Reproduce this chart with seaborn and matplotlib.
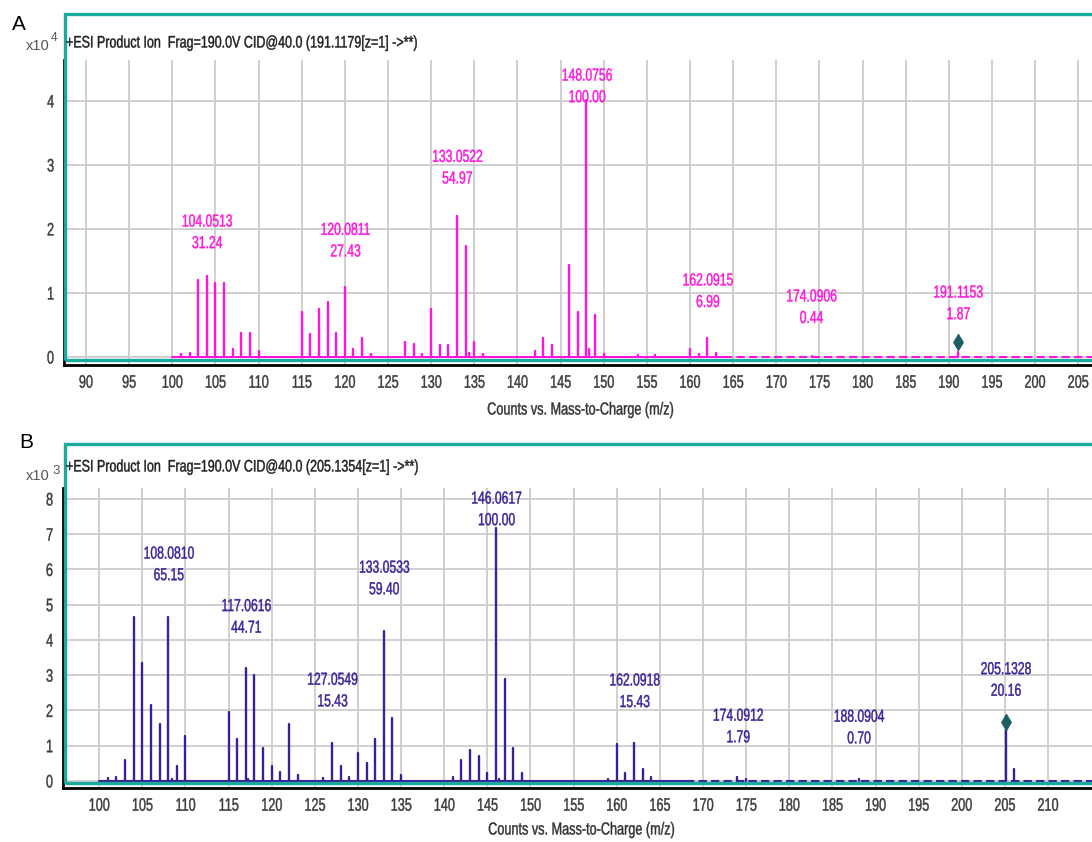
import numpy as np
import pandas as pd
import matplotlib
matplotlib.use("Agg")
import matplotlib.pyplot as plt
import seaborn as sns
from matplotlib.patches import Rectangle
from matplotlib.patheffects import AbstractPathEffect
from matplotlib.transforms import Affine2D

# ---------------- data ----------------
# Panel A: precursor 191.1179, counts x10^4
a_mz = [101, 102, 103, 104, 105, 106, 107, 108, 109, 110,
        115, 116, 117, 118, 119, 120, 121, 122, 123,
        127, 128, 129, 130, 131, 132, 133, 134, 134.4, 135, 136,
        142, 143, 144, 146, 147, 148, 148.3, 149, 150,
        154, 156, 160, 161, 162, 163, 174.1, 191.1]
a_int = [0.04, 0.07, 1.21, 1.27, 1.16, 1.16, 0.13, 0.38, 0.38, 0.09,
         0.71, 0.36, 0.75, 0.86, 0.37, 1.09, 0.13, 0.30, 0.04,
         0.24, 0.21, 0.04, 0.75, 0.18, 0.18, 2.21, 1.74, 0.06, 0.24, 0.04,
         0.09, 0.30, 0.18, 1.44, 0.71, 4.02, 0.12, 0.66, 0.04,
         0.03, 0.03, 0.13, 0.04, 0.30, 0.07, 0.02, 0.08]
a_lab_mz = ["104.0513", "120.0811", "133.0522", "148.0756", "162.0915", "174.0906", "191.1153"]
a_lab_rel = ["31.24", "27.43", "54.97", "100.00", "6.99", "0.44", "1.87"]
a_prec = 191.1

# Panel B: precursor 205.1354, counts x10^3
b_mz = [101, 102, 103, 104, 105, 106, 107, 108, 108.4, 109, 110,
        115, 116, 117, 117.3, 118, 119, 120, 121, 122, 123,
        126, 127, 128, 129, 130, 131, 132, 133, 134, 135,
        141, 142, 143, 144, 145, 146, 146.4, 147, 148, 149,
        159, 160, 161, 162, 163, 164, 174, 175, 188.1, 205.1, 206.1]
b_int = [0.07, 0.10, 0.60, 4.66, 3.36, 2.16, 1.62, 4.66, 0.05, 0.43, 1.28,
         1.95, 1.18, 3.21, 0.05, 3.01, 0.93, 0.43, 0.24, 1.62, 0.17,
         0.07, 1.09, 0.43, 0.12, 0.78, 0.50, 1.18, 4.26, 1.78, 0.17,
         0.12, 0.60, 0.88, 0.71, 0.22, 7.17, 0.05, 2.88, 0.93, 0.22,
         0.06, 1.04, 0.22, 1.09, 0.33, 0.12, 0.10, 0.05, 0.05, 1.45, 0.33]
b_lab_mz = ["108.0810", "117.0616", "127.0549", "133.0533", "146.0617",
            "162.0918", "174.0912", "188.0904", "205.1328"]
b_lab_rel = ["65.15", "44.71", "15.43", "59.40", "100.00", "15.43", "1.79", "0.70", "20.16"]
b_prec = 205.1

# label heights (annotation placement, axis units)
a_lab_y = [1.94, 1.81, 2.95, 4.22, 1.02, 0.77, 0.83]
b_lab_y = [6.13, 4.64, 2.55, 5.73, 7.69, 2.53, 1.53, 1.50, 2.85]
a_marker_y = 0.23
b_marker_y = 1.68

# ---------------- style ----------------
sns.set_style("white")
plt.rcParams["font.family"] = ["Liberation Sans", "DejaVu Sans"]

W, H = 1092, 842
fig = plt.figure(figsize=(W / 100, H / 100), dpi=100)

TEAL = "#18aa9c"
MAG = "#ff14d8"
IND = "#3a1f96"
MARK = "#1d5e66"
GRID = "#cdcdcd"
SQ = 0.70  # horizontal squeeze to imitate the narrow instrument font


class Squeeze(AbstractPathEffect):
    """Compress text glyphs horizontally about an anchor, with a light stroke."""

    def __init__(self, sx=SQ, anchor="center", stroke=0.3):
        super().__init__()
        self.sx = sx
        self.anchor = anchor
        self.stroke = stroke

    def draw_path(self, renderer, gc, tpath, affine, rgbFace=None):
        ext = tpath.get_extents()
        if self.anchor == "center":
            cx = (ext.x0 + ext.x1) / 2
        elif self.anchor == "right":
            cx = ext.x1
        else:
            cx = 0.0
        t = Affine2D().translate(-cx, 0).scale(self.sx, 1).translate(cx, 0)
        aff = t + affine
        if self.stroke and rgbFace is not None:
            gc0 = renderer.new_gc()
            gc0.copy_properties(gc)
            gc0.set_linewidth(self.stroke)
            gc0.set_foreground(rgbFace)
            renderer.draw_path(gc0, tpath, aff, rgbFace)
            gc0.restore()
        else:
            renderer.draw_path(gc, tpath, aff, rgbFace)


def fy(y):
    return 1 - y / H


def stems(mz, inten):
    rows = []
    for i, (m, v) in enumerate(zip(mz, inten)):
        rows.append((m, 0.0, i))
        rows.append((m, v, i))
    return pd.DataFrame(rows, columns=["mz", "counts", "peak"])


def panel(ax, mz, inten, color, xlim, ylim, xticks, yticks, lab_mz, lab_rel, lab_y,
          prec, prec_y, solid_end):
    ax.set_xlim(*xlim)
    ax.set_ylim(*ylim)
    ax.set_xticks(xticks)
    ax.set_yticks(yticks)
    ax.grid(True, color=GRID, lw=1.3, zorder=0)
    ax.set_axisbelow(True)
    # baseline
    ax.plot([100, solid_end], [0, 0], color=color, lw=1.5, zorder=2)
    ax.plot([solid_end, xlim[1]], [0, 0], color=color, lw=1.5, ls=(0, (4, 2)), zorder=2)
    df = stems(mz, inten)
    sns.lineplot(data=df, x="mz", y="counts", units="peak", estimator=None, sort=False,
                 color=color, lw=1.7, ax=ax, legend=False, zorder=3)
    sns.scatterplot(x=[prec], y=[prec_y], marker="d", s=70, color=MARK, edgecolor=MARK,
                    ax=ax, legend=False, zorder=4)
    for m, r, y in zip(lab_mz, lab_rel, lab_y):
        ax.text(float(m), y, f"{m}\n{r}", color=color, ha="center", va="center",
                fontsize=12.5, linespacing=1.55, zorder=5,
                path_effects=[Squeeze(SQ, "center")])
    ax.set_xlabel("")
    ax.set_ylabel("")
    for s in ["top", "right"]:
        ax.spines[s].set_visible(False)
    for s in ["left", "bottom"]:
        ax.spines[s].set_color("black")
        ax.spines[s].set_linewidth(2.0)
    ax.tick_params(axis="both", which="major", length=4, width=1.2, color="black",
                   labelsize=13, labelcolor="#3a3a3a", pad=3)
    for tl in ax.get_xticklabels():
        tl.set_path_effects([Squeeze(SQ, "center")])
    for tl in ax.get_yticklabels():
        tl.set_path_effects([Squeeze(SQ, "right")])


axA = fig.add_axes([64 / W, fy(365), (W - 64) / W, (365 - 60) / H])
panel(axA, a_mz, a_int, MAG, (87.45, 206.6), (-0.125, 4.64), np.arange(90, 206, 5),
      [0, 1, 2, 3, 4], a_lab_mz, a_lab_rel, a_lab_y, a_prec, a_marker_y, 164)

axB = fig.add_axes([63 / W, fy(788), (W - 63) / W, (788 - 488) / H])
panel(axB, b_mz, b_int, IND, (95.8, 215.1), (-0.2, 8.31), np.arange(100, 211, 5),
      range(0, 9), b_lab_mz, b_lab_rel, b_lab_y, b_prec, b_marker_y, 168)

# teal frames around each spectrum
fig.add_artist(Rectangle((65 / W, fy(360)), (1110 - 65) / W, (360 - 14) / H,
                         transform=fig.transFigure, fill=False, ec=TEAL, lw=2.4))
fig.add_artist(Rectangle((65 / W, fy(783)), (1110 - 65) / W, (783 - 444) / H,
                         transform=fig.transFigure, fill=False, ec=TEAL, lw=2.4))

left_sq = [Squeeze(0.75, "left")]
ctr_sq = [Squeeze(0.73, "center")]

# titles
fig.text(66 / W, fy(43), "+ESI Product Ion  Frag=190.0V CID@40.0 (191.1179[z=1] ->**)",
         fontsize=12, va="center", ha="left", color="#1e1e1e", path_effects=left_sq)
fig.text(66 / W, fy(467), "+ESI Product Ion  Frag=190.0V CID@40.0 (205.1354[z=1] ->**)",
         fontsize=12, va="center", ha="left", color="#1e1e1e", path_effects=left_sq)

# scale factors (x10 with superscript exponent)
fig.text(26 / W, fy(46), "x10", fontsize=10.5, va="center", ha="left", color="#555555")
fig.text(51 / W, fy(38), "4", fontsize=8.5, va="center", ha="left", color="#555555")
fig.text(26 / W, fy(476), "x10", fontsize=10.5, va="center", ha="left", color="#555555")
fig.text(52 / W, fy(471), "3", fontsize=9.5, va="center", ha="left", color="#555555")

# panel letters
fig.text(12 / W, fy(24), "A", fontsize=15, va="center", ha="left", color="black")
fig.text(19 / W, fy(443), "B", fontsize=15, va="center", ha="left", color="black")

# x labels
fig.text(581 / W, fy(410), "Counts vs. Mass-to-Charge (m/z)", fontsize=12.5,
         va="center", ha="center", color="#333333", path_effects=ctr_sq)
fig.text(582 / W, fy(830), "Counts vs. Mass-to-Charge (m/z)", fontsize=12.5,
         va="center", ha="center", color="#333333", path_effects=ctr_sq)

fig.savefig("out.png", dpi=100)
